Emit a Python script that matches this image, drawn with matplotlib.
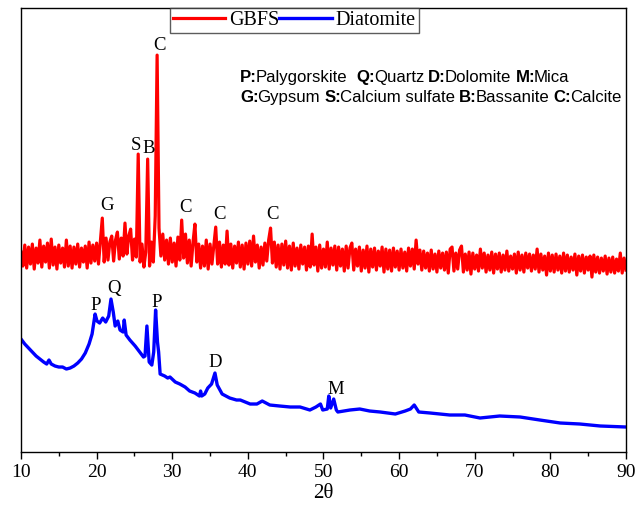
import numpy as np
import matplotlib
matplotlib.use("Agg")
import matplotlib.pyplot as plt

# GBFS scan, step 0.25 deg from 10 to 90 (arbitrary intensity units)
gbfs_start, gbfs_step = 10.0, 0.25
gbfs = [
    200, 186, 207, 184, 205, 188, 208, 183, 204, 189, 212, 185, 206, 190, 209, 184, 213, 187, 205, 183,  # 10
    207, 189, 204, 185, 212, 186, 206, 184, 205, 188, 208, 185, 204, 190, 206, 184, 210, 189, 207, 191,  # 15
    209, 188, 211, 234, 190, 214, 192, 210, 216, 191, 212, 220, 193, 214, 196, 229, 198, 216, 223, 192,  # 20
    213, 195, 298, 190, 208, 185, 200, 293, 186, 210, 190, 236, 397, 224, 196, 218, 192, 212, 188, 214,  # 25
    190, 209, 186, 215, 192, 232, 194, 218, 189, 212, 186, 210, 228, 190, 208, 184, 206, 186, 212, 183,  # 30
    208, 188, 206, 225, 188, 210, 185, 207, 188, 221, 187, 208, 184, 206, 189, 210, 185, 207, 183, 209,  # 35
    188, 211, 186, 216, 190, 207, 184, 205, 187, 209, 191, 212, 224, 189, 210, 185, 207, 183, 208, 187,  # 40
    211, 184, 206, 182, 209, 186, 204, 183, 207, 188, 205, 182, 206, 185, 218, 187, 205, 181, 207, 184,  # 45
    203, 185, 210, 183, 204, 187, 206, 182, 205, 186, 203, 181, 206, 184, 204, 209, 182, 203, 186, 205,  # 50
    181, 202, 184, 206, 180, 203, 185, 204, 182, 201, 186, 205, 180, 203, 183, 202, 181, 204, 185, 201,  # 55
    182, 203, 184, 200, 181, 204, 186, 203, 183, 212, 188, 202, 182, 201, 184, 199, 181, 202, 183, 198,  # 60
    180, 201, 184, 199, 182, 200, 179, 203, 205, 181, 199, 183, 202, 206, 180, 198, 182, 200, 178, 199,  # 65
    183, 197, 181, 203, 184, 199, 180, 197, 182, 200, 179, 198, 183, 199, 180, 197, 182, 201, 181, 196,  # 70
    183, 198, 179, 200, 182, 197, 180, 199, 184, 198, 181, 197, 183, 203, 180, 198, 182, 196, 177, 199,  # 75
    181, 197, 180, 198, 182, 196, 179, 199, 181, 197, 180, 195, 182, 198, 177, 196, 181, 197, 179, 195,  # 80
    182, 196, 175, 197, 180, 195, 179, 194, 181, 196, 178, 194, 180, 195, 179, 193, 181, 199, 179, 194,  # 85
    182,  # 90
]

diat_x = [10, 10.5, 11, 11.5, 12, 12.5, 13, 13.4, 13.7, 14, 14.5, 15, 15.5, 16, 16.5, 17, 17.5, 18,
          18.5, 19, 19.4, 19.8, 20.05, 20.4, 20.8, 21.2, 21.6, 21.9, 22.2, 22.45, 22.8, 23.1, 23.5,
          23.65, 23.9, 24.4, 25.1, 25.7, 26.2, 26.4, 26.65, 26.95, 27.3, 27.55, 27.8, 28.05, 28.2,
          28.4, 29.0, 29.4, 29.7, 30.4, 31.0, 31.7, 32.3, 33.0, 33.6, 33.75, 33.9, 34.3, 34.7, 35.2,
          35.65, 35.95, 36.6, 37.6, 38.5, 39.0, 40.3, 41.2, 41.9, 42.9, 44.2, 45.6, 46.9, 48.2, 49.0,
          49.6, 49.9, 50.5, 50.7, 50.95, 51.35, 51.7, 51.9, 53.5, 54.8, 56.1, 57.5, 59.5, 60.8, 61.5,
          62.0, 62.6, 64.1, 66.7, 68.7, 70.7, 73.3, 76.0, 78.6, 81.3, 83.9, 86.6, 90]
diat_y = [113, 108, 104, 100, 96, 93, 90, 88, 92, 88, 86, 85, 85, 83, 84, 86, 89, 93,
          99, 108, 118, 138, 131, 129, 134, 130, 136, 153, 140, 126, 131, 122, 120,
          132, 117, 112, 106, 100, 95, 96, 126, 90, 87, 100, 142, 110, 100,
          78, 76, 74, 75, 70, 68, 65, 61, 59, 56, 61, 56, 58, 64, 68,
          79, 67, 58, 54, 52, 52, 48, 48, 51, 47, 46, 45, 45, 42, 45,
          48, 42, 43, 56, 44, 53, 42, 40, 42, 43, 41, 40, 38, 41, 43,
          47, 40, 39, 37, 37, 34, 36, 35, 32, 29, 28, 26, 25]

# phase labels: (2theta, intensity, letter)
gbfs_labels = [(21.4, 242, "G"), (25.2, 302, "S"), (26.9, 299, "B"), (28.25, 402, "C"),
               (31.8, 240, "C"), (36.2, 233, "C"), (43.2, 233, "C")]
diat_labels = [(19.9, 142, "P"), (22.3, 159, "Q"), (28.0, 145, "P"), (35.65, 85, "D"),
               (51.65, 58, "M")]

key_lines = [
    [("P:", "Palygorskite"), ("Q:", "Quartz"), ("D:", "Dolomite"), ("M:", "Mica")],
    [("G:", "Gypsum"), ("S:", "Calcium sulfate"), ("B:", "Bassanite"), ("C:", "Calcite")],
]

serif = "Liberation Serif"
sans = "Liberation Sans"

fig = plt.figure(figsize=(6.44, 5.09), dpi=100)
ax = fig.add_axes([0.0326, 0.112, 0.9394, 0.872])

gx = gbfs_start + gbfs_step * np.arange(len(gbfs))
ax.plot(gx, gbfs, color="#ff0000", lw=2.3, label="GBFS")
ax.plot(diat_x, diat_y, color="#0000ff", lw=2.4, label="Diatomite")

for x, y, s in gbfs_labels + diat_labels:
    ax.text(x, y, s, ha="center", va="baseline", fontsize=13.5, family=serif)

# mixed bold / regular key text, chained piece by piece
fs_key = 12.1
key_y = [0.826, 0.781]
for n, (line, yy) in enumerate(zip(key_lines, key_y)):
    prev = None
    for k, (bold, rest) in enumerate(line):
        gap = 0 if k == 0 else (6.4 if (k == 1 and n == 0) else 3.0)
        if prev is None:
            prev = ax.text(0.362, yy, bold, transform=ax.transAxes, fontsize=fs_key,
                           family=sans, fontweight="bold", va="bottom", ha="left")
        else:
            prev = ax.annotate(bold, xy=(1, 0), xycoords=prev, xytext=(gap, 0),
                               textcoords="offset points", fontsize=fs_key, family=sans,
                               fontweight="bold", va="bottom", ha="left")
        prev = ax.annotate(rest, xy=(1, 0), xycoords=prev, xytext=(-0.8, 0),
                           textcoords="offset points", fontsize=fs_key, family=sans,
                           va="bottom", ha="left")

ax.set_xlim(10, 90)
ax.set_ylim(0, 444)
ax.set_xticks(np.arange(10, 91, 10))
ax.set_xticks(np.arange(15, 90, 10), minor=True)
ax.set_yticks([])
ax.tick_params(axis="x", which="major", direction="out", length=5, width=1, labelsize=14)
ax.tick_params(axis="x", which="minor", direction="out", length=3, width=1)
for lab in ax.get_xticklabels():
    lab.set_family(serif)
for sp in ax.spines.values():
    sp.set_linewidth(1.0)
ax.set_xlabel("2θ", fontsize=15, family=serif, labelpad=2)

leg = ax.legend(loc="upper left", bbox_to_anchor=(0.246, 1.0), borderaxespad=0, ncol=2,
                prop={"family": serif, "size": 14.5}, frameon=True, fancybox=False,
                handlelength=2.6, handletextpad=0.2, columnspacing=0.0, borderpad=0.15)
leg.get_frame().set_edgecolor("#333333")
leg.get_frame().set_linewidth(1.0)

fig.savefig("out.png", dpi=100)
